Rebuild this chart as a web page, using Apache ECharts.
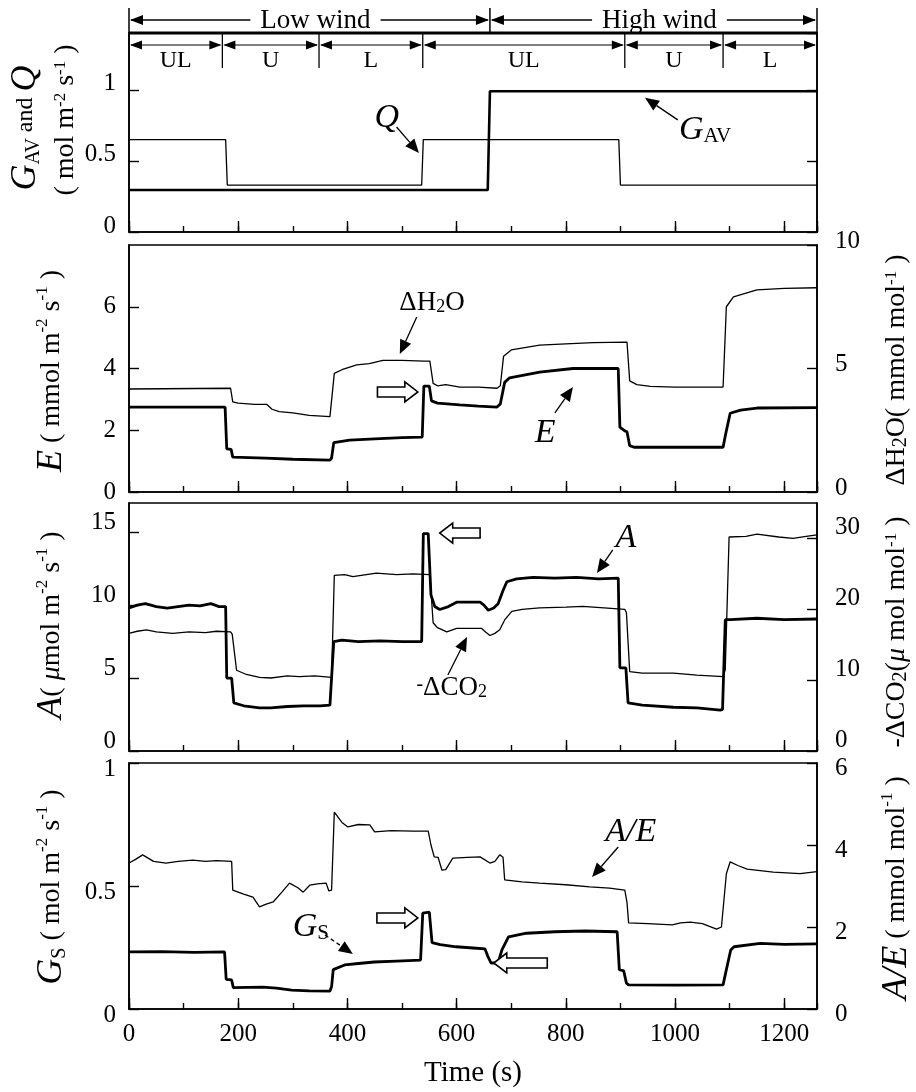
<!DOCTYPE html>
<html>
<head>
<meta charset="utf-8">
<title>Leaf gas exchange under low and high wind</title>
<script src="https://cdn.jsdelivr.net/npm/echarts@6/dist/echarts.min.js"></script>
<style>
  html, body { margin: 0; padding: 0; background: #fff; }
  #div_chart { width: 916px; height: 1092px; }
</style>
</head>
<body>
<div id="div_chart"></div>
<script>
// time axis (s)
var timeMax = 1260;
var phaseEdges = [0, 171, 348, 538, 908, 1088, 1260];
var phaseNames = ['UL', 'U', 'L', 'UL', 'U', 'L'];
var windEdges = [0, 661, 1260];
var windNames = ['Low wind', 'High wind'];

// axis ranges per panel (left / right)
var leftMax = [1.4, 8, 17, 1];
var leftStep = [0.5, 2, 5, 0.5];
var rightMax = [1.4, 10, 35, 6];
var rightStep = [0.5, 5, 10, 2];

// panel 1 : Q (thin) and G_AV (thick)
var qData = [[0, 0.65], [177, 0.65], [180, 0.33], [536, 0.33], [539, 0.65], [897, 0.65], [900, 0.33], [1260, 0.33]];
var gavData = [[0, 0.295], [657, 0.295], [661, 0.99], [1260, 0.99]];

// panel 2 : delta H2O (thin, right axis) and E (thick)
var h2oData = [[0, 4.17], [186, 4.2], [190, 3.65], [200, 3.6], [230, 3.55], [252, 3.55], [262, 3.35], [275, 3.25],
  [300, 3.2], [330, 3.1], [368, 3.05], [371, 3.1], [376, 4.8], [390, 4.95], [417, 5.15], [440, 5.2], [465, 5.33],
  [500, 5.33], [540, 5.3], [551, 5.3], [557, 4.4], [565, 4.3], [580, 4.35], [606, 4.25], [640, 4.25], [674, 4.2],
  [680, 4.3], [686, 5.5], [700, 5.75], [752, 5.95], [800, 6.0], [850, 6.05], [912, 6.07], [917, 4.5], [930, 4.35],
  [955, 4.28], [1000, 4.25], [1088, 4.25], [1094, 7.5], [1107, 7.9], [1150, 8.18], [1200, 8.24], [1260, 8.27]];
var eData = [[0, 2.75], [176, 2.75], [179, 1.4], [187, 1.38], [190, 1.13], [250, 1.1], [300, 1.06], [368, 1.03],
  [371, 1.1], [375, 1.6], [404, 1.68], [450, 1.72], [500, 1.76], [537, 1.78], [540, 3.43], [550, 3.43], [554, 2.95],
  [565, 2.88], [606, 2.82], [640, 2.78], [674, 2.75], [680, 2.85], [688, 3.55], [697, 3.7], [752, 3.88], [813, 4.0],
  [896, 4.0], [899, 2.1], [908, 1.98], [912, 1.95], [917, 1.5], [925, 1.45], [1088, 1.45], [1093, 1.9], [1101, 2.55],
  [1120, 2.65], [1150, 2.72], [1260, 2.73]];

// panel 3 : -delta CO2 (thin, right axis) and A (thick)
var co2Data = [[0, 16.6], [15, 16.9], [32, 17.1], [50, 16.8], [80, 16.6], [110, 16.8], [140, 16.7], [160, 16.9],
  [186, 16.8], [189, 16.5], [197, 11.4], [215, 10.8], [239, 10.4], [260, 10.3], [290, 10.6], [312, 10.5], [340, 10.6],
  [371, 10.4], [376, 24.8], [395, 24.9], [410, 24.6], [453, 25.1], [490, 24.9], [520, 25.0], [551, 24.9], [557, 18.1],
  [565, 17.4], [582, 16.8], [600, 17.3], [646, 17.3], [653, 16.8], [661, 16.3], [670, 16.6], [679, 17.1], [688, 18.5],
  [701, 19.7], [720, 20.0], [752, 20.2], [800, 20.3], [831, 20.4], [870, 20.2], [908, 20.0], [911, 19.5], [917, 11.2],
  [940, 11.0], [997, 11.0], [1040, 10.7], [1088, 10.5], [1092, 11.5], [1099, 30.2], [1130, 30.3], [1150, 30.6],
  [1190, 30.2], [1216, 30.0], [1240, 30.3], [1260, 30.5]];
var aData = [[0, 9.8], [15, 10.0], [30, 10.1], [50, 9.9], [70, 9.8], [90, 9.9], [110, 10.0], [130, 9.95], [150, 10.1],
  [165, 9.9], [177, 9.9], [179, 5.0], [188, 5.0], [192, 3.3], [210, 3.1], [239, 2.95], [260, 2.95], [290, 3.05],
  [320, 3.1], [350, 3.1], [368, 3.15], [371, 3.2], [375, 7.5], [390, 7.6], [420, 7.5], [460, 7.55], [500, 7.5],
  [536, 7.5], [539, 14.9], [548, 14.9], [553, 10.7], [560, 9.9], [569, 9.7], [585, 9.9], [600, 10.2], [643, 10.2],
  [650, 10.0], [658, 9.65], [668, 9.8], [676, 10.1], [685, 11.0], [692, 11.6], [710, 11.8], [740, 11.9], [780, 11.85],
  [820, 11.9], [860, 11.8], [896, 11.85], [899, 5.7], [910, 5.7], [914, 3.3], [940, 3.15], [997, 3.0], [1040, 2.95],
  [1083, 2.8], [1087, 2.85], [1092, 9.0], [1101, 9.0], [1150, 9.1], [1200, 9.0], [1260, 9.05]];

// panel 4 : A/E (thin, right axis) and Gs (thick)
var aeData = [[0, 3.56], [12, 3.65], [25, 3.76], [45, 3.6], [68, 3.56], [90, 3.6], [117, 3.63], [140, 3.6], [160, 3.62],
  [188, 3.6], [190, 2.9], [210, 2.8], [227, 2.73], [239, 2.49], [250, 2.55], [264, 2.61], [280, 2.85], [294, 3.07],
  [310, 2.95], [319, 2.85], [331, 3.02], [345, 3.05], [361, 3.07], [366, 2.88], [371, 2.9], [376, 4.8], [390, 4.55],
  [401, 4.44], [420, 4.5], [441, 4.49], [450, 4.32], [480, 4.35], [520, 4.34], [548, 4.34], [553, 4.0], [559, 3.71],
  [566, 3.7], [573, 3.39], [580, 3.4], [593, 3.68], [620, 3.7], [643, 3.71], [661, 3.56], [670, 3.6], [679, 3.76],
  [685, 3.7], [688, 3.15], [720, 3.1], [752, 3.07], [800, 3.03], [844, 2.98], [880, 2.95], [908, 2.9], [912, 2.6],
  [915, 2.1], [950, 2.08], [995, 2.05], [1010, 2.1], [1028, 2.12], [1050, 2.08], [1076, 1.95], [1085, 2.0], [1094, 3.3],
  [1101, 3.59], [1115, 3.5], [1132, 3.41], [1180, 3.34], [1229, 3.3], [1260, 3.35]];
var gsData = [[0, 0.232], [60, 0.233], [120, 0.23], [175, 0.232], [178, 0.12], [188, 0.118], [191, 0.087], [245, 0.089],
  [270, 0.085], [298, 0.077], [330, 0.074], [368, 0.073], [371, 0.09], [374, 0.16], [395, 0.179], [420, 0.185],
  [449, 0.191], [490, 0.195], [534, 0.199], [538, 0.39], [550, 0.394], [555, 0.27], [570, 0.262], [599, 0.253],
  [630, 0.248], [652, 0.244], [657, 0.215], [663, 0.187], [676, 0.188], [683, 0.24], [695, 0.293], [728, 0.308],
  [780, 0.314], [835, 0.317], [894, 0.314], [898, 0.16], [906, 0.155], [911, 0.105], [915, 0.098], [1000, 0.097],
  [1088, 0.098], [1093, 0.15], [1102, 0.24], [1108, 0.253], [1156, 0.267], [1200, 0.263], [1260, 0.265]];

var FONT = 'Liberation Serif';
var myChart = echarts.init(document.getElementById('div_chart'));

var gridPos = [[33, 199], [245, 247], [503, 248], [763, 246]];
// vertical nudge of tick labels: [verticalAlign, lineHeight]
var leftNudge = [['bottom', 12], ['middle', 25], ['bottom', 20], ['top', 12]];
var rightNudge = [['middle', 25], ['bottom', 8], ['bottom', 22], ['top', 10]];

var axisLineStyle = {color: '#000', width: 1.6};
var tickStyle = {color: '#000', width: 1.4};

function plainNum(v) { return String(Math.round(v * 100) / 100); }

var grids = [], xAxes = [], yAxes = [];
for (var i = 0; i < 4; i++) {
    grids.push({
        left: 129, right: 99, top: gridPos[i][0], height: gridPos[i][1],
        show: true, borderColor: '#000', borderWidth: 1.6, backgroundColor: 'transparent',
        outerBoundsMode: 'none'
    });
}
// main time axes (short ticks every 100 s)
for (var i = 0; i < 4; i++) {
    xAxes.push({
        type: 'value', gridIndex: i, position: 'bottom', min: 0, max: timeMax, interval: 100,
        axisLine: {onZero: false, lineStyle: axisLineStyle},
        axisTick: {inside: true, length: 6, lineStyle: tickStyle},
        axisLabel: {show: false}, splitLine: {show: false}
    });
}
// long ticks every 200 s, labels on the bottom panel only
for (var i = 0; i < 4; i++) {
    xAxes.push({
        type: 'value', gridIndex: i, position: 'bottom', min: 0, max: timeMax, interval: 200,
        axisLine: {show: false, onZero: false},
        axisTick: {inside: true, length: 11, lineStyle: tickStyle},
        axisLabel: {show: i === 3, showMaxLabel: false, formatter: plainNum,
            fontFamily: FONT, fontSize: 25, color: '#000', margin: 13},
        splitLine: {show: false}
    });
}
for (var i = 0; i < 4; i++) {
    yAxes.push({
        type: 'value', gridIndex: i, position: 'left', min: 0, max: leftMax[i], interval: leftStep[i],
        axisLine: {onZero: false, lineStyle: axisLineStyle},
        axisTick: {inside: true, length: 10, lineStyle: tickStyle},
        axisLabel: {showMaxLabel: i === 3, formatter: plainNum, fontFamily: FONT, fontSize: 25, color: '#000', margin: 13,
            verticalAlign: leftNudge[i][0], lineHeight: leftNudge[i][1]},
        splitLine: {show: false}
    });
}
for (var i = 0; i < 4; i++) {
    yAxes.push({
        type: 'value', gridIndex: i, position: 'right', min: 0, max: rightMax[i], interval: rightStep[i],
        axisLine: {onZero: false, lineStyle: axisLineStyle},
        axisTick: {inside: true, length: 10, lineStyle: tickStyle},
        axisLabel: {show: i > 0, showMaxLabel: i !== 2, formatter: plainNum, fontFamily: FONT, fontSize: 25, color: '#000', margin: 18,
            verticalAlign: rightNudge[i][0], lineHeight: rightNudge[i][1]},
        splitLine: {show: false}
    });
}

function line(data, xi, yi, w) {
    return {
        type: 'line', data: data, xAxisIndex: xi, yAxisIndex: yi,
        symbol: 'none', showSymbol: false, clip: true,
        lineStyle: {color: '#000', width: w}, z: w > 2 ? 4 : 3
    };
}

var option = {
    animation: false,
    backgroundColor: '#fff',
    grid: grids,
    xAxis: xAxes,
    yAxis: yAxes,
    series: [
        line(qData, 0, 0, 1.3),
        line(gavData, 0, 0, 2.6),
        line(h2oData, 1, 5, 1.3),
        line(eData, 1, 1, 2.8),
        line(co2Data, 2, 6, 1.3),
        line(aData, 2, 2, 2.8),
        line(aeData, 3, 7, 1.3),
        line(gsData, 3, 3, 2.8)
    ]
};
myChart.setOption(option);

// ---------- annotations ----------
function X(t) { return myChart.convertToPixel({xAxisIndex: 0}, t); }
function P(g, t, v) { return myChart.convertToPixel({xAxisIndex: g, yAxisIndex: g}, [t, v]); }

function headPts(x0, y0, x1, y1, len, half) {
    var dx = x1 - x0, dy = y1 - y0, d = Math.sqrt(dx * dx + dy * dy);
    var ux = dx / d, uy = dy / d;
    var bx = x1 - ux * len, by = y1 - uy * len;
    return [[x1, y1], [bx - uy * half, by + ux * half], [bx + uy * half, by - ux * half]];
}
function seg(x1, y1, x2, y2, w, dash, z) {
    return {type: 'line', silent: true, z: z || 10, shape: {x1: x1, y1: y1, x2: x2, y2: y2},
        style: {stroke: '#000', lineWidth: w || 1.3, lineDash: dash || null}};
}
function tri(pts) {
    return {type: 'polygon', silent: true, z: 10, shape: {points: pts}, style: {fill: '#000'}};
}
function pointer(p0, p1, dash) {
    var h = headPts(p0[0], p0[1], p1[0], p1[1], 14, 6);
    var bx = (h[1][0] + h[2][0]) / 2, by = (h[1][1] + h[2][1]) / 2;
    return [seg(p0[0], p0[1], bx, by, 1.3, dash), tri(h)];
}
function blockArrow(tip, tail) {
    var s = tip[0] > tail[0] ? 1 : -1, y = tip[1], hx = tip[0] - 13 * s;
    return {type: 'polygon', silent: true, z: 10,
        shape: {points: [[tail[0], y - 5], [hx, y - 5], [hx, y - 10], [tip[0], y], [hx, y + 10], [hx, y + 5], [tail[0], y + 5]]},
        style: {fill: '#fff', stroke: '#000', lineWidth: 1.6}};
}
function txt(x, y, text, rich, extra) {
    var el = {type: 'text', silent: true, x: x, y: y, z: 10,
        style: {text: text, rich: rich, fill: '#000', fontFamily: FONT, fontSize: 26, align: 'center', verticalAlign: 'middle'}};
    if (extra) for (var k in extra) el[k] = extra[k];
    return el;
}
function plain(x, y, text, size, extra) {
    var st = {text: text, fill: '#000', fontFamily: FONT, fontSize: size, align: 'center', verticalAlign: 'middle'};
    if (extra) for (var k in extra) st[k] = extra[k];
    return {type: 'text', silent: true, x: x, y: y, z: 10, style: st};
}

var R = {
    b: {fontFamily: FONT, fontSize: 28, fill: '#000'},
    it: {fontFamily: FONT, fontSize: 36, fontStyle: 'italic', fill: '#000'},
    it2: {fontFamily: FONT, fontSize: 28, fontStyle: 'italic', fill: '#000'},
    sm: {fontFamily: FONT, fontSize: 24, fill: '#000'},
    sup: {fontFamily: FONT, fontSize: 17, fill: '#000', verticalAlign: 'top'},
    sub: {fontFamily: FONT, fontSize: 20, fill: '#000', verticalAlign: 'bottom'},
    lab: {fontFamily: FONT, fontSize: 27, fill: '#000'},
    labsub: {fontFamily: FONT, fontSize: 18, fill: '#000', verticalAlign: 'bottom'},
    labsup: {fontFamily: FONT, fontSize: 20, fill: '#000', verticalAlign: 'top'},
    li: {fontFamily: FONT, fontSize: 34, fontStyle: 'italic', fill: '#000'},
    lisub: {fontFamily: FONT, fontSize: 21, fill: '#000', verticalAlign: 'bottom'}
};

function buildGraphics() {
    var els = [];
    var top0 = gridPos[0][0];
    var yw = 20;
    // low / high wind row
    for (var i = 0; i < windNames.length; i++) {
        var xa = X(windEdges[i]), xb = X(windEdges[i + 1]);
        els.push(seg(xa + 2, yw, xb - 2, yw, 1.3));
        els.push(tri(headPts(xa + 20, yw, xa + 1, yw, 13, 5)));
        els.push(tri(headPts(xb - 20, yw, xb - 1, yw, 13, 5)));
        els.push(plain((xa + xb) / 2 + 6, yw + 1, windNames[i], 27, {backgroundColor: '#fff', padding: [0, 10]}));
    }
    for (var i = 0; i < windEdges.length; i++) {
        els.push(seg(X(windEdges[i]), 8, X(windEdges[i]), top0, 1.5, null, 20));
    }
    // phase row inside the top panel
    var yp = top0 + 12;
    for (var i = 0; i < phaseNames.length; i++) {
        var xa = X(phaseEdges[i]), xb = X(phaseEdges[i + 1]);
        els.push(seg(xa + 2, yp, xb - 2, yp, 1.2));
        els.push(tri(headPts(xa + 20, yp, xa + 1, yp, 12, 4.5)));
        els.push(tri(headPts(xb - 20, yp, xb - 1, yp, 12, 4.5)));
        els.push(plain((xa + xb) / 2, top0 + 28, phaseNames[i], 24));
        if (i > 0) els.push(seg(xa, top0, xa, top0 + 35, 1.3));
    }
    els.push(seg(X(0), top0, X(timeMax), top0, 2.8, null, 20));

    // panel 1 labels
    var p = P(0, 472, 0.803);
    els.push(txt(p[0], p[1], '{li|Q}', R));
    els = els.concat(pointer(P(0, 490, 0.739), P(0, 531, 0.556)));
    p = P(0, 1055, 0.718);
    els.push(txt(p[0], p[1], '{li|G}{lisub|AV}', R));
    els = els.concat(pointer(P(0, 1005, 0.789), P(0, 945, 0.944)));

    // panel 2 labels
    p = P(1, 555, 6.12);
    els.push(txt(p[0], p[1], '{lab|ΔH}{labsub|2}{lab|O}', R));
    els = els.concat(pointer(P(1, 527, 5.67), P(1, 496, 4.47)));
    p = P(1, 762, 1.91);
    els.push(txt(p[0], p[1], '{li|E}', R));
    els = els.concat(pointer(P(1, 780, 2.56), P(1, 813, 3.40)));
    els.push(blockArrow(P(1, 529, 3.24), P(1, 455, 3.24)));

    // panel 3 labels
    els.push(blockArrow(P(2, 569, 14.94), P(2, 643, 14.94)));
    p = P(2, 910, 14.6);
    els.push(txt(p[0], p[1], '{li|A}', R));
    els = els.concat(pointer(P(2, 886, 13.78), P(2, 857, 12.2)));
    p = P(2, 591, 4.32);
    els.push(txt(p[0], p[1], '{labsup|-}{lab|ΔCO}{labsub|2}', R));
    els = els.concat(pointer(P(2, 584, 5.21), P(2, 619, 7.81)));

    // panel 4 labels
    els.push(blockArrow(P(3, 529, 0.370), P(3, 454, 0.370)));
    els.push(blockArrow(P(3, 668, 0.187), P(3, 766, 0.187)));
    p = P(3, 919, 0.7195);
    els.push(txt(p[0], p[1], '{li|A/E}', R));
    els = els.concat(pointer(P(3, 896, 0.6585), P(3, 848, 0.5366)));
    p = P(3, 333, 0.333);
    els.push(txt(p[0], p[1], '{li|G}{lisub|S}', R));
    els = els.concat(pointer(P(3, 359, 0.301), P(3, 410, 0.2236), [4, 3]));

    // axis titles (rotated, reading bottom to top)
    var rot = {rotation: Math.PI / 2};
    els.push(txt(26, 128, '{it|G}{sub|AV}{sm| and }{it|Q}', R, rot));
    els.push(txt(66, 120, '{b|( mol m}{sup|-2}{b| s}{sup|-1}{b| )}', R, rot));
    els.push(txt(52, 371, '{it|E}{b| ( mmol m}{sup|-2}{b| s}{sup|-1}{b| )}', R, rot));
    els.push(txt(52, 625, '{it|A}{b|( }{it2|μ}{b|mol m}{sup|-2}{b| s}{sup|-1}{b| )}', R, rot));
    els.push(txt(52, 887, '{it|G}{sub|S}{b| ( mol m}{sup|-2}{b| s}{sup|-1}{b| )}', R, rot));
    els.push(txt(897, 370, '{b|ΔH}{sub|2}{b|O( mmol mol}{sup|-1}{b| )}', R, rot));
    els.push(txt(897, 632, '{b|-ΔCO}{sub|2}{b|(}{it2|μ}{b| mol mol}{sup|-1}{b| )}', R, rot));
    els.push(txt(897, 888, '{it|A/E}{b| ( mmol mol}{sup|-1}{b| )}', R, rot));

    // x axis title
    els.push(plain(X(timeMax / 2), 1073, 'Time (s)', 29));

    myChart.setOption({graphic: els});
}
buildGraphics();
</script>
</body>
</html>
